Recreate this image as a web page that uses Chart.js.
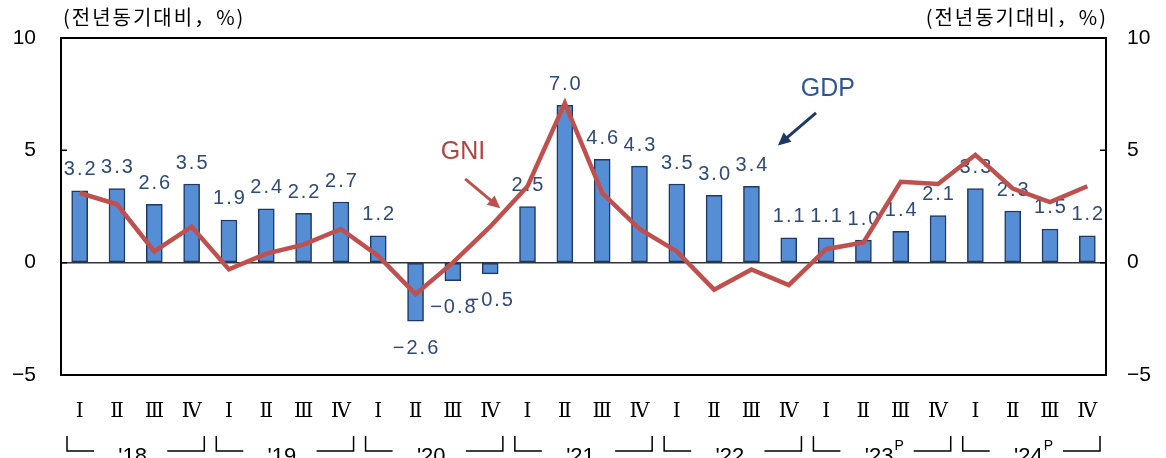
<!DOCTYPE html>
<html>
<head>
<meta charset="utf-8">
<script src="https://cdn.jsdelivr.net/npm/chart.js@4"></script>
<style>
  html, body { margin: 0; padding: 0; background: #fff; }
  #wrap { width: 1166px; height: 458px; }
</style>
</head>
<body>
<div id="wrap"><canvas id="graph"></canvas></div>
<script>
// 분기 라벨
var quarters = ["Ⅰ","Ⅱ","Ⅲ","Ⅳ","Ⅰ","Ⅱ","Ⅲ","Ⅳ","Ⅰ","Ⅱ","Ⅲ","Ⅳ","Ⅰ","Ⅱ","Ⅲ","Ⅳ","Ⅰ","Ⅱ","Ⅲ","Ⅳ","Ⅰ","Ⅱ","Ⅲ","Ⅳ","Ⅰ","Ⅱ","Ⅲ","Ⅳ"];
var years = ["'18", "'19", "'20", "'21", "'22", "'23", "'24"];
var yearSup = ["", "", "", "", "", "P", "P"];

// GDP (막대), GNI (선)
var gdp = [3.2, 3.3, 2.6, 3.5, 1.9, 2.4, 2.2, 2.7, 1.2, -2.6, -0.8, -0.5, 2.5, 7.0, 4.6, 4.3, 3.5, 3.0, 3.4, 1.1, 1.1, 1.0, 1.4, 2.1, 3.3, 2.3, 1.5, 1.2];
var gni = [3.1, 2.6, 0.5, 1.6, -0.3, 0.4, 0.8, 1.5, 0.3, -1.4, 0.0, 1.6, 3.4, 7.1, 3.1, 1.5, 0.5, -1.2, -0.3, -1.0, 0.6, 0.9, 3.6, 3.5, 4.8, 3.3, 2.7, 3.4];

var yTicks = [-5, 0, 5, 10];

var barColor = "#558ED5";
var barBorder = "#1F3864";
var lineColor = "#C0504D";
var labelColor = "#2E4A7A";

function fmt(v) {
  return v < 0 ? "\u2212" + Math.abs(v).toFixed(1) : v.toFixed(1);
}

// 막대 값 라벨 (선 아래에 그림)
var valueLabels = {
  id: "valueLabels",
  beforeDatasetsDraw: function (chart) {
    var ctx = chart.ctx;
    var meta = chart.getDatasetMeta(1);
    ctx.save();
    ctx.font = "20px 'Liberation Sans', Arial, sans-serif";
    ctx.fillStyle = labelColor;
    ctx.textAlign = "center";
    ctx.textBaseline = "middle";
    if ("letterSpacing" in ctx) ctx.letterSpacing = "2px";
    meta.data.forEach(function (bar, i) {
      var v = gdp[i];
      var y = v >= 0 ? bar.y - 21 : bar.y + 27;
      ctx.fillText(fmt(v), bar.x + 1, y);
    });
    ctx.restore();
  },
};

function arrow(ctx, x1, y1, x2, y2, color, w, head) {
  var a = Math.atan2(y2 - y1, x2 - x1);
  ctx.save();
  ctx.strokeStyle = color;
  ctx.fillStyle = color;
  ctx.lineWidth = w;
  ctx.beginPath();
  ctx.moveTo(x1, y1);
  ctx.lineTo(x2 - Math.cos(a) * head * 0.8, y2 - Math.sin(a) * head * 0.8);
  ctx.stroke();
  ctx.beginPath();
  ctx.moveTo(x2, y2);
  ctx.lineTo(x2 - head * Math.cos(a - 0.45), y2 - head * Math.sin(a - 0.45));
  ctx.lineTo(x2 - head * Math.cos(a + 0.45), y2 - head * Math.sin(a + 0.45));
  ctx.closePath();
  ctx.fill();
  ctx.restore();
}

// 테두리, 눈금, 단위, 연도 괄호, 주석
var decor = {
  id: "decor",
  afterDatasetsDraw: function (chart) {
    var ctx = chart.ctx;
    var a = chart.chartArea;
    var xs = chart.scales.x;
    var ys = chart.scales.y;
    ctx.save();

    // 테두리
    ctx.strokeStyle = "#000";
    ctx.lineWidth = 2;
    ctx.strokeRect(a.left, a.top, a.right - a.left, a.bottom - a.top);

    // 안쪽 눈금
    ctx.lineWidth = 1.5;
    yTicks.forEach(function (t) {
      var py = ys.getPixelForValue(t);
      ctx.beginPath();
      ctx.moveTo(a.left, py);
      ctx.lineTo(a.left + 6, py);
      ctx.moveTo(a.right, py);
      ctx.lineTo(a.right - 6, py);
      ctx.stroke();
    });

    // 단위
    ctx.save();
    ctx.fillStyle = "#000";
    ctx.font = "20px 'Noto Sans CJK KR', sans-serif";
    ctx.textBaseline = "middle";
    if ("letterSpacing" in ctx) ctx.letterSpacing = "2px";
    ctx.textAlign = "left";
    ctx.fillText("(전년동기대비，%)", a.left + 2, 17);
    ctx.textAlign = "right";
    ctx.fillText("(전년동기대비，%)", a.right + 2, 17);
    ctx.restore();

    // 연도 괄호
    var cw = (a.right - a.left) / quarters.length;
    ctx.lineWidth = 1.5;
    ctx.strokeStyle = "#000";
    ctx.fillStyle = "#000";
    years.forEach(function (yr, g) {
      var l = a.left + g * 4 * cw + 6;
      var r = a.left + (g + 1) * 4 * cw - 6;
      var c = (l + r) / 2;
      ctx.beginPath();
      ctx.moveTo(l, 436);
      ctx.lineTo(l, 451);
      ctx.lineTo(l + 27, 451);
      ctx.moveTo(r - 37, 451);
      ctx.lineTo(r, 451);
      ctx.lineTo(r, 436);
      ctx.stroke();
      ctx.font = "22px 'Liberation Sans', Arial, sans-serif";
      ctx.textAlign = "center";
      ctx.textBaseline = "middle";
      var tw = ctx.measureText(yr).width;
      ctx.fillText(yr, c - 3, 457);
      if (yearSup[g]) {
        ctx.font = "14px 'Liberation Sans', Arial, sans-serif";
        ctx.textAlign = "left";
        ctx.fillText(yearSup[g], c - 3 + tw / 2 + 1, 446);
      }
    });

    // GNI / GDP 주석
    ctx.font = "25px 'Liberation Sans', Arial, sans-serif";
    ctx.textAlign = "center";
    ctx.textBaseline = "middle";
    ctx.fillStyle = "#B3433F";
    ctx.fillText("GNI", xs.getPixelForValue(10.27), ys.getPixelForValue(4.93));
    arrow(ctx, xs.getPixelForValue(10.33), ys.getPixelForValue(3.73),
      xs.getPixelForValue(11.27), ys.getPixelForValue(2.42), lineColor, 3, 14);
    ctx.fillStyle = "#2F5597";
    ctx.fillText("GDP", xs.getPixelForValue(20.05), ys.getPixelForValue(7.73));
    arrow(ctx, xs.getPixelForValue(19.73), ys.getPixelForValue(6.67),
      xs.getPixelForValue(18.71), ys.getPixelForValue(5.22), barBorder, 3, 14);

    ctx.restore();
  },
};

var ctx = document.querySelector("#graph");
var graph = new Chart(ctx, {
  data: {
    labels: quarters,
    datasets: [
      {
        type: "line",
        label: "GNI",
        data: gni,
        borderColor: lineColor,
        borderWidth: 4.5,
        pointRadius: 0,
        tension: 0,
        yAxisID: "y",
        order: 0,
      },
      {
        type: "bar",
        label: "GDP",
        data: gdp,
        backgroundColor: barColor,
        borderColor: barBorder,
        borderWidth: 1.5,
        borderSkipped: false,
        barThickness: 16,
        yAxisID: "y",
        order: 1,
      },
    ],
  },
  options: {
    responsive: true,
    maintainAspectRatio: false,
    animation: false,
    layout: { padding: { top: 38, left: 0, right: 0, bottom: 0 } },
    plugins: { legend: { display: false }, tooltip: { enabled: false } },
    scales: {
      x: {
        grid: { display: false, drawTicks: false },
        border: { display: false },
        ticks: {
          color: "#000",
          padding: 25,
          maxRotation: 0,
          autoSkip: false,
          font: { family: "'DejaVu Serif', 'Liberation Serif', serif", size: 20 },
        },
        afterFit: function (s) { s.height = 83; },
      },
      y: {
        position: "left",
        min: -5,
        max: 10,
        grid: {
          drawTicks: false,
          color: function (c) { return c.tick && c.tick.value === 0 ? "#333" : "rgba(0,0,0,0)"; },
          lineWidth: 1.5,
        },
        border: { display: false },
        ticks: {
          stepSize: 5,
          padding: 25,
          color: "#000",
          font: { family: "'Liberation Sans', Arial, sans-serif", size: 21 },
          callback: function (v) { return v < 0 ? "\u2212" + Math.abs(v) : v; },
        },
        afterFit: function (s) { s.width = 61; },
      },
      y1: {
        position: "right",
        min: -5,
        max: 10,
        grid: { display: false, drawTicks: false },
        border: { display: false },
        ticks: {
          stepSize: 5,
          padding: 21,
          color: "#000",
          font: { family: "'Liberation Sans', Arial, sans-serif", size: 21 },
          callback: function (v) { return v < 0 ? "\u2212" + Math.abs(v) : v; },
        },
        afterFit: function (s) { s.width = 60; },
      },
    },
  },
  plugins: [valueLabels, decor],
});
</script>
</body>
</html>
